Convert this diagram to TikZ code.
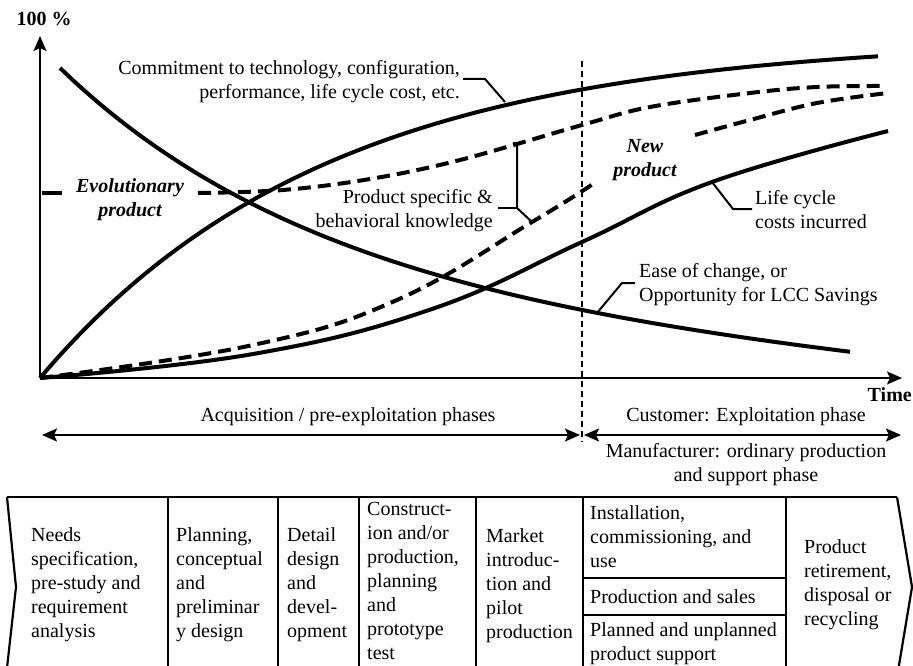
\documentclass[tikz,border=0pt]{standalone}
\usepackage{fontspec}
\setmainfont{Liberation Serif}
\usetikzlibrary{arrows.meta}
\begin{document}
\begin{tikzpicture}[x=1pt,y=-1pt,
  txt/.style={font=\fontsize{20}{24}\selectfont, inner sep=0pt},
  lbl/.style={txt, align=left, anchor=north west},
  curve/.style={line width=4pt},
  dcurve/.style={line width=4pt, dash pattern=on 13pt off 7pt},
  axis/.style={line width=2pt},
  leader/.style={line width=2pt},
  tbl/.style={line width=2.2pt},
  tipend/.style={-{Stealth[length=15pt,width=13pt,inset=3pt]}},
  tipboth/.style={{Stealth[length=15pt,width=13pt,inset=3pt]}-{Stealth[length=15pt,width=13pt,inset=3pt]}},
]
\useasboundingbox (0,0) rectangle (913,666);
\clip (0,0) rectangle (913,666);
\fill[white] (0,0) rectangle (913,666);

% axes
\coordinate (O) at (40,378);
\coordinate (Ytop) at (40,36);
\coordinate (Xend) at (902,378);
\draw[axis, tipend] (O) -- (Ytop);
\draw[axis, tipend] (O) -- (Xend);
\node[txt, font=\fontsize{20}{24}\selectfont\bfseries] (ylab) at (44,19) {100 \%};
\node[txt, font=\fontsize{20}{24}\selectfont\bfseries, anchor=east] (xlab) at (912,395) {Time};

% phase separator
\coordinate (v1) at (582,61);
\coordinate (v2) at (582,442);
\draw[line width=1.6pt, dash pattern=on 6pt off 4pt] (v1) -- (v2);

% phase arrows
\coordinate (a1) at (42,435);
\coordinate (a2) at (580,435);
\coordinate (a3) at (584,435);
\coordinate (a4) at (901,435);
\draw[axis, tipboth] (a1) -- (a2);
\draw[axis, tipboth] (a3) -- (a4);
\node[txt] (acq) at (348,417) {Acquisition / pre-exploitation phases};
\node[txt] (cust) at (746,417) {Customer: Exploitation phase};
\node[txt, align=center, anchor=north] (manu) at (746,443) {Manufacturer: ordinary production\\and support phase};

% curves
\draw[curve] plot[domain=40:878, samples=120] (\x, {378-340*(1-exp(-(\x-40)/287))});
\draw[curve] plot[domain=60:850, samples=120] (\x, {68+230*(1-exp(-(\x-60)/260))+0.082*(\x-60)});
\draw[curve] plot[smooth, tension=0.7] coordinates {(40,378) (253,354) (432,309) (582,242) (712,182) (888,131)};

\draw[line width=4pt] (42,193) -- (62,193);
\draw[dcurve] plot[smooth, tension=0.6] coordinates {(198,193) (283,190) (370,179) (460,160) (582,125) (650,107) (750,93) (817,87) (883,86)};
\draw[dcurve] plot[smooth, tension=0.7] coordinates {(40,378) (253,345) (397,300) (532,222) (593,184)};
\draw[dcurve] plot[smooth, tension=0.6] coordinates {(695,135) (750,120) (817,103) (888,93)};

% labels on chart
\node[txt, align=right, anchor=north east] (comm) at (460,60) {Commitment to technology, configuration,\\performance, life cycle cost, etc.};
\node[txt, align=right, anchor=north east] (know) at (493,189) {Product specific \&\\behavioral knowledge};
\node[lbl] (lcc) at (755,190) {Life cycle\\costs incurred};
\node[lbl] (ease) at (639,263) {Ease of change, or\\Opportunity for LCC Savings};
\node[txt, align=center, anchor=north, font=\fontsize{20}{24}\selectfont\bfseries\itshape] (evo) at (130,178) {Evolutionary\\product};
\node[txt, align=center, anchor=north, font=\fontsize{20}{24}\selectfont\bfseries\itshape] (newp) at (645,139) {New\\product};

% leaders
\coordinate (c1) at (505,102); \coordinate (c2) at (485,79); \coordinate (c3) at (463,79);
\draw[leader] (c1) -- (c2) -- (c3);
\coordinate (b1) at (517,143); \coordinate (b2) at (517,208); \coordinate (b3) at (532,222); \coordinate (b4) at (498,208);
\coordinate (t1) at (513,143); \coordinate (t2) at (521,143);
\draw[leader] (t1) -- (t2);
\draw[leader] (b1) -- (b2) -- (b3);
\draw[leader] (b4) -- (b2);
\coordinate (l1) at (712,182); \coordinate (l2) at (733,209); \coordinate (l3) at (752,209);
\draw[leader] (l1) -- (l2) -- (l3);
\coordinate (e1) at (597,313); \coordinate (e2) at (622,283); \coordinate (e3) at (635,283);
\draw[leader] (e1) -- (e2) -- (e3);

% table
\draw[tbl] (7,497) -- (897,497);
\draw[tbl] (7,497) -- (16,587) -- (6,677);
\draw[tbl] (897,497) -- (912,587) -- (897,677);
\foreach \cx in {168,278,359,476,583,786} \draw[tbl] (\cx,497) -- (\cx,680);
\draw[tbl] (583,578) -- (786,578);
\draw[tbl] (583,615) -- (786,615);

\node[lbl] (p1) at (31,527) {Needs\\specification,\\pre-study and\\requirement\\analysis};
\node[lbl] (p2) at (176,527) {Planning,\\conceptual\\and\\preliminar\\y design};
\node[lbl] (p3) at (287,527) {Detail\\design\\and\\devel-\\opment};
\node[lbl] (p4) at (367,502) {Construct-\\ion and/or\\production,\\planning\\and\\prototype\\test};
\node[lbl] (p5) at (486,528) {Market\\introduc-\\tion and\\pilot\\production};
\node[lbl] (p6a) at (590,505) {Installation,\\commissioning, and\\use};
\node[lbl] (p6b) at (590,589) {Production and sales};
\node[lbl] (p6c) at (590,622) {Planned and unplanned\\product support};
\node[lbl] (p7) at (804,539) {Product\\retirement,\\disposal or\\recycling};
\end{tikzpicture}
\end{document}
